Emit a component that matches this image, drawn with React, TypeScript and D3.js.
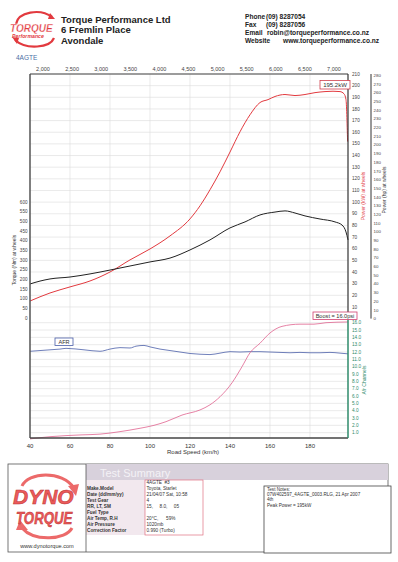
import React from 'react';
import * as d3 from 'd3';

// ---------- data ----------
const rpmTicks = [2000, 2500, 3000, 3500, 4000, 4500, 5000, 5500, 6000, 6500, 7000];
const speedTicks = [40, 60, 80, 100, 120, 140, 160, 180];
const powerTicks = [10, 20, 30, 40, 50, 60, 70, 80, 90, 100, 110, 120, 130, 140, 150, 160, 170, 180, 190, 200, 210];
const hpTicks = [0, 10, 20, 30, 40, 50, 60, 70, 80, 90, 100, 110, 120, 130, 140, 150, 160, 170, 180, 190, 200, 210, 220, 230, 240, 250, 260, 270, 280];
const torqueTicks = [0, 50, 100, 150, 200, 250, 300, 350, 400, 450, 500, 550, 600];
const afrTicks = [1, 2, 3, 4, 5, 6, 7, 8, 9, 10, 11, 12, 13, 14, 15, 16];

const powerSpeed = [40, 50, 60, 70, 80, 90, 100, 110, 120, 125, 130, 135, 140, 145, 150, 155, 159, 162.5, 167.5, 172.5, 177.5, 182.5, 187.5, 191.5, 195, 197, 198, 198.8];
const powerKw = [15.1, 22, 27.2, 32.3, 40, 50.4, 59.8, 71, 85.6, 96.8, 110.6, 126, 143, 160.4, 175, 185.5, 188, 190.7, 192.4, 191.5, 192.4, 194, 194.9, 195.2, 194.9, 193, 188, 152];

const torqueSpeed = [40, 45, 50, 60, 70, 80, 90, 100, 110, 120, 130, 140, 147.5, 155, 162.5, 167.5, 172.5, 177.5, 185, 192.5, 196, 198, 199];
const torqueNm = [176, 191, 202, 212, 228, 248, 269, 290, 310, 352, 404, 466, 497, 533, 548, 554, 543, 528, 512, 497, 481, 445, 404];

const afrSpeed = [40, 50, 55, 58, 67, 75, 80, 85, 90, 93, 97, 100, 105, 110, 115, 120, 125, 130, 135, 140, 145, 150, 155, 160, 165, 170, 175, 180, 185, 190, 195, 199];
const afrValue = [12.1, 12.3, 12.4, 12.5, 12.3, 12.1, 12.4, 12.6, 12.55, 12.8, 12.9, 12.7, 12.4, 12.2, 12.0, 11.8, 11.7, 11.65, 11.85, 12.05, 12.0, 12.05, 12.05, 12.0, 11.95, 11.9, 11.95, 11.9, 11.9, 11.95, 11.85, 11.75];

const boostSpeed = [40, 50, 58, 66, 75, 84, 95, 102, 108, 116, 125, 130, 135, 141, 146, 150, 155, 160, 166, 175, 182, 188, 199];
const boostPsi = [0.15, 0.45, 0.6, 0.7, 0.8, 1.1, 1.6, 2.0, 2.5, 3.4, 4.1, 4.8, 5.9, 7.8, 10.0, 11.9, 13.2, 14.6, 15.5, 15.8, 15.8, 16.0, 16.1];

const summaryLabels = ['', 'Make.Model', 'Date (dd/mm/yy)', 'Test Gear', 'RR, LT, SM', 'Fuel Type', 'Air Temp, R.H', 'Air Pressure', 'Correction Factor'];
const summaryValues = ['4AGTE  #3', 'Toyota, Starlet', '21/04/07 Sat, 10:58', '4', '15,     8.0,     05', '', '20°C,      59%', '1020mb', '0.990 (Turbo)'];
const notesLines = ['Test Notes:', '07W402597_4AGTE_0003.RLG, 21 Apr 2007', '4th', 'Peak Power = 195kW'];

// ---------- scales ----------
const L = 30, R = 348, T = 74, MID = 318.6, B = 438;
const x = d3.scaleLinear().domain([40, 199]).range([L, R]);
const xRpm = d3.scaleLinear().domain([2000, 7000]).range([43, 334]);
const yPow = d3.scaleLinear().domain([0, 210]).range([MID, T]);
const yHp = (h: number) => yPow(h * 0.7457);
const yTq = d3.scaleLinear().domain([0, 600]).range([318, 202]);
const yAfr = d3.scaleLinear().domain([0, 16]).range([440, 322.7]);

const FONT = 'Liberation Sans, Arial, sans-serif';
const RED = '#e23a3f';
const GREEN = '#2f8b6b';
const BLUE = '#4a5ea8';
const PINK = '#e0628e';

function mkLine(xs: number[], ys: number[], yS: (v: number) => number) {
  const pts = xs.map((s, i) => [s, ys[i]] as [number, number]);
  return d3.line<[number, number]>().x(d => x(d[0])).y(d => yS(d[1])).curve(d3.curveMonotoneX)(pts) || '';
}

export default function App() {
  const fmt = d3.format(',');
  const rowY = (i: number) => 483.5 + i * 6.0;
  return (
    <svg width={398} height={562} style={{ position: 'absolute', left: 0, top: 0, background: '#fff' }} fontFamily={FONT}>
      <rect x={0} y={0} width={398} height={562} fill="#fff" />

      {/* header logo */}
      <g>
        <path d="M16,24 C18,12 40,8 52,17" fill="none" stroke={RED} strokeWidth={2.2} />
        <path d="M50,13 L55,19 L48,19 Z" fill={RED} />
        <path d="M54,38 C50,48 26,50 15,40" fill="none" stroke={RED} strokeWidth={2.2} />
        <path d="M17,44 L12,37 L19,38 Z" fill={RED} />
        <text transform="translate(10,31.5) scale(0.87,1)" fontSize={11.5} fontWeight="bold" fontStyle="italic" fill={RED} stroke="#fff" strokeWidth={0.3}>TORQUE</text>
        <text transform="translate(12,37.5) scale(0.95,1)" fontSize={5.5} fontWeight="bold" fontStyle="italic" fill={RED}>Performance</text>
      </g>
      <text x={61} y={22.5} fontSize={9.5} fontWeight="bold" fill="#222">Torque Performance Ltd</text>
      <text x={61} y={33} fontSize={9.5} fontWeight="bold" fill="#222">6 Fremlin Place</text>
      <text x={61} y={43.5} fontSize={9.5} fontWeight="bold" fill="#222">Avondale</text>

      <g fontSize={6.6} fontWeight="bold" fill="#222">
        <text x={245} y={19}>Phone</text><text x={266} y={19}>(09) 8287054</text>
        <text x={245} y={26.6}>Fax</text><text x={266} y={26.6}>(09) 8287056</text>
        <text x={245} y={34.6}>Email</text><text x={267} y={34.6}>robin@torqueperformance.co.nz</text>
        <text x={245} y={43}>Website</text><text x={283} y={43}>www.torqueperformance.co.nz</text>
      </g>
      <text x={16} y={60} fontSize={6.5} fill="#4a6fa5">4AGTE</text>

      {/* rpm axis */}
      {rpmTicks.map(r => (
        <text key={r} x={xRpm(r)} y={70.5} fontSize={5.5} fill="#444" textAnchor="middle">{fmt(r)}</text>
      ))}

      {/* grid */}
      {powerTicks.map(p => (
        <line key={'pg' + p} x1={L} x2={R} y1={yPow(p)} y2={yPow(p)} stroke="#dcdcdc" strokeWidth={0.6} />
      ))}
      {afrTicks.map(a => (
        <line key={'ag' + a} x1={L} x2={R} y1={yAfr(a)} y2={yAfr(a)} stroke="#dcdcdc" strokeWidth={0.6} />
      ))}
      {speedTicks.slice(1).map(s => (
        <line key={'sg' + s} x1={x(s)} x2={x(s)} y1={T} y2={B} stroke="#dcdcdc" strokeWidth={0.6} />
      ))}

      {/* curves */}
      <path d={mkLine(powerSpeed, powerKw, yPow)} fill="none" stroke={RED} strokeWidth={1} />
      <path d={mkLine(torqueSpeed, torqueNm, yTq)} fill="none" stroke="#222" strokeWidth={1} />
      <path d={mkLine(afrSpeed, afrValue, yAfr)} fill="none" stroke={BLUE} strokeWidth={0.8} />
      <path d={mkLine(boostSpeed, boostPsi, yAfr)} fill="none" stroke={PINK} strokeWidth={0.8} />

      {/* frame */}
      <line x1={L} x2={L} y1={T} y2={B} stroke="#555" strokeWidth={1.5} />
      <line x1={L} x2={R} y1={T} y2={T} stroke="#444" strokeWidth={1.2} />
      <line x1={L} x2={R} y1={B} y2={B} stroke="#444" strokeWidth={1.5} />
      <line x1={R} x2={R} y1={T} y2={MID} stroke="#333" strokeWidth={1.2} />
      <line x1={R} x2={R} y1={MID} y2={B} stroke={GREEN} strokeWidth={1.5} />
      <line x1={371} x2={371} y1={T} y2={MID} stroke="#333" strokeWidth={1} />

      {/* torque axis */}
      {torqueTicks.map(t => (
        <text key={'t' + t} x={27.5} y={yTq(t) + 1.6} fontSize={4.6} fill="#444" textAnchor="end">{t}</text>
      ))}
      <text transform={`translate(15.5,260) rotate(-90)`} fontSize={5} fill="#333" textAnchor="middle">Torque (Nm) at wheels</text>

      {/* power kW axis */}
      {powerTicks.map(p => (
        <text key={'p' + p} x={352} y={yPow(p) + 1.6} fontSize={4.7} fill="#444">{p}</text>
      ))}
      <text transform={`translate(364.5,196) rotate(-90)`} fontSize={5} fill={RED} textAnchor="middle">Power (kW) at wheels</text>

      {/* hp axis */}
      {hpTicks.map(h => (
        <text key={'h' + h} x={373.5} y={yHp(h) + 1.6} fontSize={4.4} fill="#444">{h}</text>
      ))}
      <text transform={`translate(386,190) rotate(-90)`} fontSize={5} fill="#333" textAnchor="middle">Power (hp) at wheels</text>

      {/* afr axis */}
      {afrTicks.map(a => (
        <text key={'a' + a} x={352} y={yAfr(a) + 1.6} fontSize={4.7} fill={GREEN}>{a.toFixed(1)}</text>
      ))}
      <text transform={`translate(366,380) rotate(-90)`} fontSize={5} fill={GREEN} textAnchor="middle">Afr Channels</text>

      {/* speed axis */}
      {speedTicks.map(s => (
        <text key={'s' + s} x={x(s)} y={447.5} fontSize={6} fill="#333" textAnchor="middle">{s}</text>
      ))}
      <text x={193} y={454} fontSize={6} fill="#333" textAnchor="middle">Road Speed (km/h)</text>

      {/* annotations */}
      <rect x={320} y={80.5} width={30} height={8.5} fill="#fff" stroke="#d0404e" strokeWidth={0.8} />
      <text x={335} y={87} fontSize={6} fill="#333" textAnchor="middle">195.2kW</text>
      <rect x={313} y={312} width={44} height={7.5} fill="#fff" stroke="#d04070" strokeWidth={0.8} />
      <text x={335} y={318} fontSize={5.6} fill="#333" textAnchor="middle">Boost = 16.0psi</text>
      <rect x={55} y={338} width={18} height={7.5} fill="#fff" stroke={BLUE} strokeWidth={0.8} />
      <text x={64} y={344} fontSize={5.6} fill="#333" textAnchor="middle">AFR</text>

      {/* footer */}
      <rect x={8} y={464} width={380} height={88} fill="#fff" stroke="#555" strokeWidth={0.8} />
      <rect x={86} y={464} width={302} height={16} fill="#d8d1dc" />
      <text x={100} y={476.5} fontSize={11} fill="#f4f1f6">Test Summary</text>
      <rect x={86} y={480} width={59} height={55} fill="#f2e8ee" />
      <rect x={145} y={480} width={58} height={55} fill="#fff" stroke="#e07080" strokeWidth={0.7} />
      <line x1={86} x2={86} y1={464} y2={552} stroke="#555" strokeWidth={0.8} />
      {summaryLabels.map((l, i) => l === '' ? null : (
        <text key={'sl' + i} x={87} y={rowY(i)} fontSize={4.7} fontWeight="bold" fill="#333">{l}</text>
      ))}
      {summaryValues.map((v, i) => v === '' ? null : (
        <text key={'sv' + i} x={146.5} y={rowY(i)} fontSize={4.7} fill="#333" style={{ whiteSpace: 'pre' }}>{v}</text>
      ))}
      <rect x={264} y={486} width={127} height={67} fill="#fff" stroke="#444" strokeWidth={0.8} />
      {notesLines.map((n, i) => (
        <text key={'n' + i} x={267} y={491 + i * 5.2} fontSize={4.6} fill="#333">{n}</text>
      ))}

      {/* dyno torque logo */}
      <g>
        <path d="M22,486 C28,472 62,470 74,488" fill="none" stroke="#ec6a6a" strokeWidth={3} />
        <path d="M68,486 L79,484 L76,496 Z" fill="#ec6a6a" />
        <path d="M72,528 C66,540 34,542 22,528" fill="none" stroke="#ec6a6a" strokeWidth={3} />
        <path d="M28,530 L16,530 L20,520 Z" fill="#ec6a6a" />
        <text transform="translate(13,503.5)" fontSize={21} fontWeight="bold" fontStyle="italic" fill="#ec5a5a" stroke="#b83030" strokeWidth={0.5}>DYNO</text>
        <text transform="translate(16,524) scale(0.78,1)" fontSize={17} fontWeight="bold" fontStyle="italic" fill="#ec5a5a" stroke="#b83030" strokeWidth={0.5}>TORQUE</text>
        <text x={47} y={548} fontSize={5.6} fill="#333" textAnchor="middle">www.dynotorque.com</text>
      </g>
    </svg>
  );
}
